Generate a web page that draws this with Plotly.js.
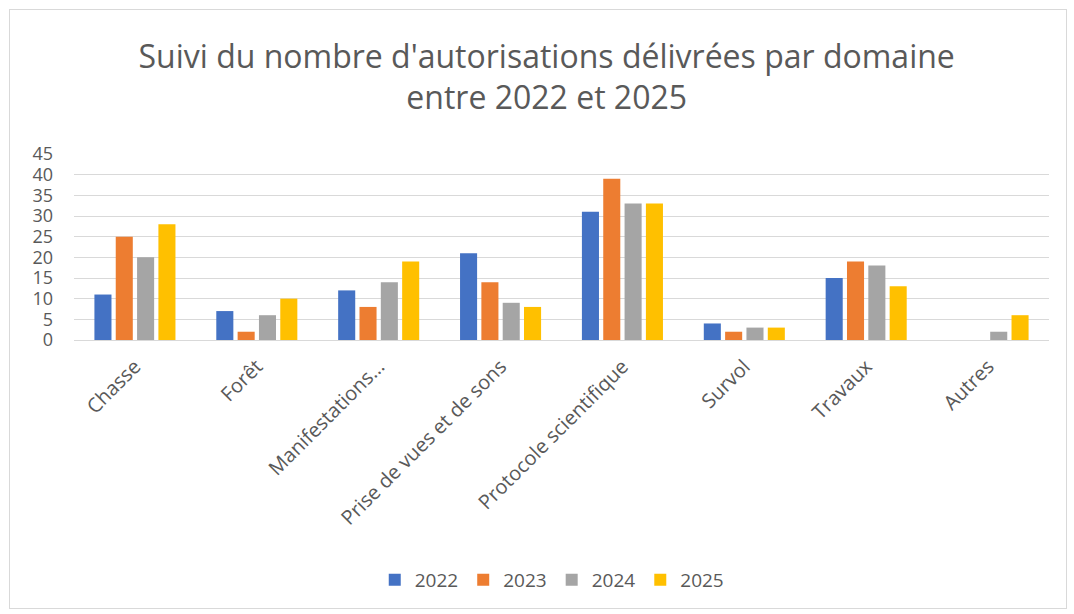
<!DOCTYPE html>
<html><head><meta charset="utf-8">
<script src="https://cdn.plot.ly/plotly-3.0.1.min.js"></script>
<style>html,body{margin:0;padding:0;background:#fff;}#wrap{position:relative;width:1074px;height:614px;}#chart{width:1074px;height:614px;}#frame{position:absolute;left:9px;top:9px;width:1058px;height:600px;border:1px solid #d9d9d9;pointer-events:none;box-sizing:border-box;}</style>
</head><body><div id="wrap"><div id="chart"></div><div id="frame"></div></div>
<script>
const categories = ["Chasse","Forêt","Manifestations…","Prise de vues et de sons","Protocole scientifique","Survol","Travaux","Autres"];
const v2022 = [11,7,12,21,31,4,15,0];
const v2023 = [25,2,8,14,39,2,19,0];
const v2024 = [20,6,14,9,33,3,18,2];
const v2025 = [28,10,19,8,33,3,13,6];
const seriesNames = ["2022","2023","2024","2025"];
const colors = ["#4472c4","#ed7d31","#a5a5a5","#ffc000"];
const vals = [v2022,v2023,v2024,v2025];
const font = "'Open Sans', sans-serif";
const traces = vals.map((v,i)=>({type:'bar',x:categories,y:v,name:seriesNames[i],marker:{color:colors[i]},hoverinfo:'none'}));
const layout = {
  width:1074,height:614,
  margin:{l:74,r:25,t:154,b:274},
  paper_bgcolor:'#fff',plot_bgcolor:'#fff',
  font:{family:font,color:'#595959',size:19},
  title:{text:"Suivi du nombre d'autorisations délivrées par domaine<br>entre 2022 et 2025",font:{size:32,color:'#595959',family:font},x:0.509,xref:'container',xanchor:'center',y:0.89,yanchor:'top',yref:'container'},
  barmode:'group',bargap:0.3,bargroupgap:0.2,
  xaxis:{tickangle:-45,showgrid:false,showline:true,linecolor:'#d9d9d9',linewidth:1,ticks:'',tickfont:{size:20,color:'#595959'},ticklabelstandoff:6},
  yaxis:{range:[0,45],dtick:5,showgrid:true,gridcolor:'#d9d9d9',gridwidth:1,zeroline:false,ticks:'',tickfont:{size:18,color:'#595959'},ticklabelstandoff:20},
  legend:{orientation:'h',x:0.49,xanchor:'center',y:-1.29,yanchor:'middle',font:{size:19,color:'#595959'},traceorder:'normal'},
  showlegend:true
};
Plotly.newPlot('chart',traces,layout,{displayModeBar:false,staticPlot:true});
</script></body></html>
